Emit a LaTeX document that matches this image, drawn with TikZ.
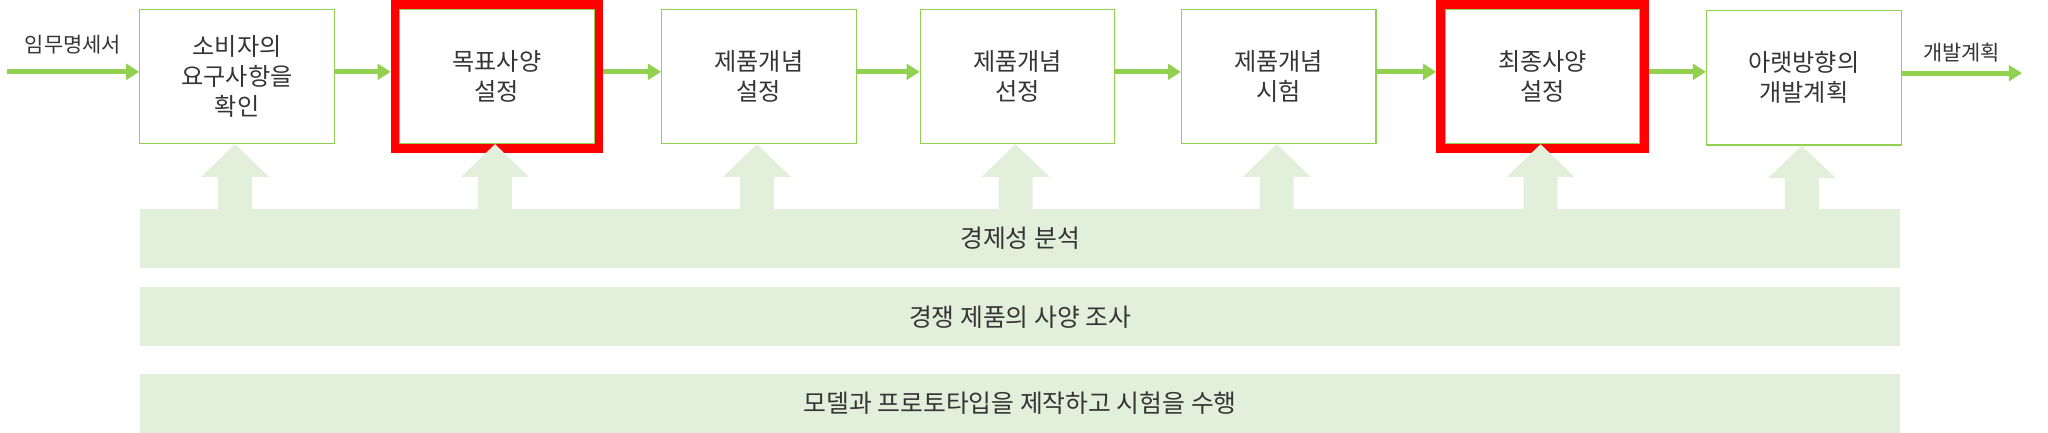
\documentclass[tikz,border=0pt]{standalone}
\usepackage{fontspec}
\setmainfont{Noto Sans CJK KR}
\usetikzlibrary{arrows.meta,fit}
\definecolor{leaf}{HTML}{92D050}
\definecolor{pale}{HTML}{E2EFDA}
\definecolor{ink}{HTML}{353535}
\begin{document}
\begin{tikzpicture}[x=1pt, y=-1pt, >={Triangle[length=10pt,width=12pt]},
    stage/.style={draw=leaf, line width=0.8pt, fill=white, text=ink, minimum width=149pt, minimum height=103pt, align=center, font=\fontsize{18.5}{23}\selectfont},
    band/.style={fill=pale, text=ink, minimum width=1348pt, minimum height=45pt, font=\fontsize{19}{20}\selectfont},
    flow/.style={->, draw=leaf, line width=4pt},
    redframe/.style={draw=red, line width=6.5pt, inner sep=3.25pt},
    tag/.style={text=ink, font=\fontsize{16}{17}\selectfont}]
    \useasboundingbox (0,0) rectangle (1568,331.5);
    % stages
    \node[stage] (req) at (181.5,58.5) {소비자의\\요구사항을\\확인};
    \node[stage] (target) at (380.5,58.5) {목표사양\\설정};
    \node[stage] (concept) at (581,58.5) {제품개념\\설정};
    \node[stage] (select) at (779,58.5) {제품개념\\선정};
    \node[stage] (test) at (979,58.5) {제품개념\\시험};
    \node[stage] (final) at (1181,58.5) {최종사양\\설정};
    \node[stage] (plan) at (1381,59.5) {아랫방향의\\개발계획};
    \node[redframe, fit=(target)] (targetmark) {};
    \node[redframe, fit=(final)] (finalmark) {};
    % bands
    \node[band] (econ) at (781,182.5) {경제성 분석};
    \node[band] (rival) at (781,242.5) {경쟁 제품의 사양 조사};
    \node[band] (proto) at (781,309) {모델과 프로토타입을 제작하고 시험을 수행};
    % block arrows
    \foreach \b in {req,target,concept,select,test,final,plan}
        \fill[pale] ([xshift=-1.5pt]\b.south) -- ++(26,25) -- ++(-13,0) -- ++(0,26) -- ++(-26,0) -- ++(0,-26) -- ++(-13,0) -- cycle;
    % flow
    \coordinate (spec) at (5,55);
    \coordinate (out) at (1548,56);
    \draw[flow] (spec) -- node[tag, above=8pt]{임무명세서} ([yshift=3.5pt]req.west);
    \foreach \a/\c in {req/targetmark, targetmark/concept, concept/select, select/test, test/finalmark}
        \draw[flow] ([yshift=3.5pt]\a.east) -- ([yshift=3.5pt]\c.west);
    \draw[flow] ([yshift=3.5pt]finalmark.east) -- ([yshift=3.5pt]finalmark.east -| plan.west);
    \draw[flow] ([yshift=3.5pt]plan.east) -- node[tag, above=3pt]{개발계획} (out);
\end{tikzpicture}
\end{document}
